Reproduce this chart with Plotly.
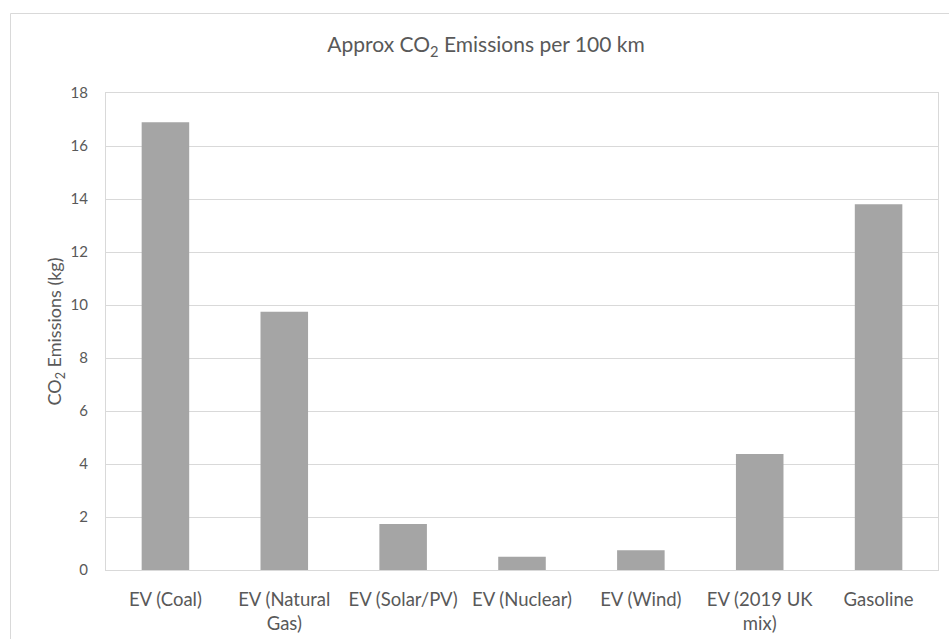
import plotly.graph_objects as go

categories = ["EV (Coal)", "EV (Natural<br>Gas)", "EV (Solar/PV)", "EV (Nuclear)",
              "EV (Wind)", "EV (2019 UK<br>mix)", "Gasoline"]
emissions_kg = [16.9, 9.75, 1.74, 0.5, 0.75, 4.38, 13.8]
y_ticks = [0, 2, 4, 6, 8, 10, 12, 14, 16, 18]

W, H = 949, 639
L, R, T, B = 106, 11, 93, 69
pw, ph = W - L - R, H - T - B

font_family = "Lato, 'Open Sans', sans-serif"
txt = "#595959"
grid = "#D9D9D9"

fig = go.Figure(go.Bar(x=categories, y=emissions_kg, marker=dict(color="#A5A5A5", line=dict(width=0)),
                       width=0.4))

fig.update_layout(
    width=W, height=H,
    margin=dict(l=L, r=R, t=T, b=B, autoexpand=False),
    paper_bgcolor="white", plot_bgcolor="white",
    font=dict(family=font_family, color=txt, size=15),
    title=dict(text="Approx CO<sub>2</sub> Emissions per 100 km", x=486 / W, xref="container",
               y=1 - 45 / H, yref="container", yanchor="middle", xanchor="center",
               font=dict(size=21, color=txt, family=font_family)),
    showlegend=False,
    bargap=0.6,
)
fig.update_xaxes(showline=True, linecolor=grid, mirror=True, showgrid=False, automargin=False,
                 ticks="outside", ticklen=13, tickcolor="rgba(0,0,0,0)",
                 tickfont=dict(size=18.5, color=txt))
fig.update_yaxes(range=[0, 18], tickvals=y_ticks, showgrid=True, gridcolor=grid, gridwidth=1,
                 showline=True, linecolor=grid, mirror=True, zeroline=False, automargin=False,
                 ticks="outside", ticklen=14, tickcolor="rgba(0,0,0,0)",
                 tickfont=dict(size=15, color=txt),
                 title=dict(text="CO<sub>2</sub> Emissions (kg)", font=dict(size=18, color=txt), standoff=4))

# outer chart border
fig.add_shape(type="rect", xref="paper", yref="paper",
              x0=(10.5 - L) / pw, x1=(W + 2 - L) / pw,
              y0=(T + ph - (H + 5)) / ph, y1=(T + ph - 13.5) / ph,
              line=dict(color=grid, width=1), fillcolor="rgba(0,0,0,0)", layer="below")

fig.write_html("out.html", config={"displayModeBar": False},
               post_script="document.body.style.margin='0';document.body.style.padding='0';"
                           "document.body.style.overflow='hidden';")
